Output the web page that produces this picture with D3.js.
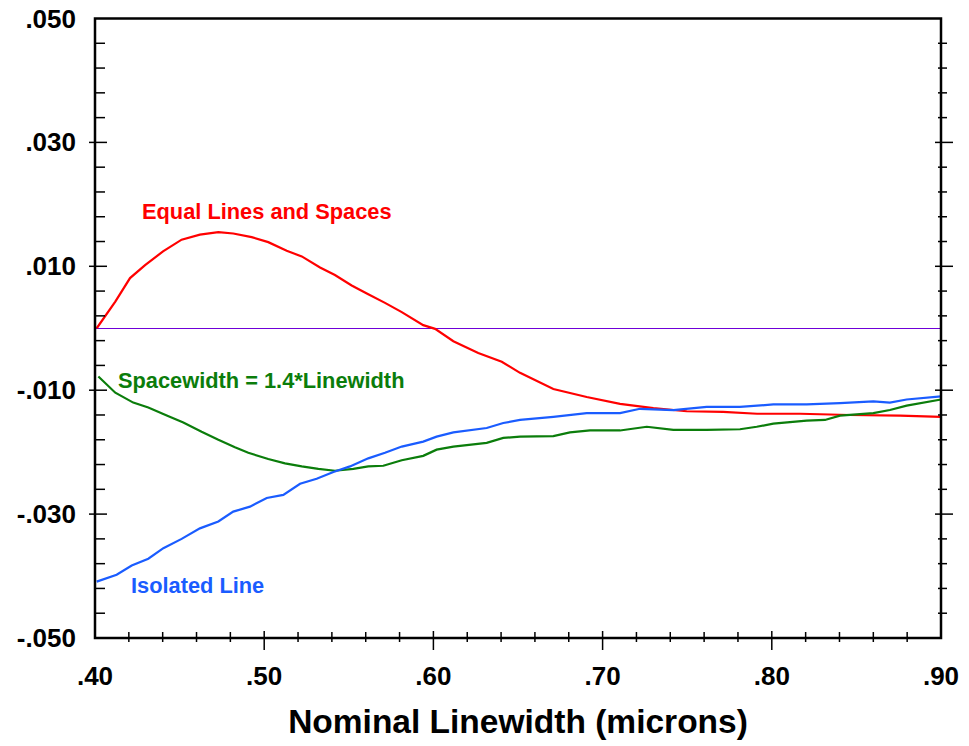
<!DOCTYPE html>
<html>
<head>
<meta charset="utf-8">
<script src="https://cdn.jsdelivr.net/npm/d3@7"></script>
<style>
  body { margin: 0; background: #fff; }
  text { font-family: Arial, "Liberation Sans", sans-serif; font-weight: bold; }
</style>
</head>
<body>
<div id="chart"></div>
<script>
// tick labels
var xTicks = [0.40, 0.50, 0.60, 0.70, 0.80, 0.90];
var xTickLabels = [".40", ".50", ".60", ".70", ".80", ".90"];
var yTicks = [0.050, 0.030, 0.010, -0.010, -0.030, -0.050];
var yTickLabels = [".050", ".030", ".010", "-.010", "-.030", "-.050"];

// Equal Lines and Spaces
var equalX = [0.401, 0.412, 0.4207, 0.4296, 0.4402, 0.4512, 0.462, 0.4729, 0.4817, 0.4926,
  0.5024, 0.5133, 0.5222, 0.533, 0.5418, 0.5517, 0.5615, 0.5714, 0.5813, 0.594,
  0.601, 0.6118, 0.6265, 0.6404, 0.6512, 0.6709, 0.6906, 0.7103, 0.73, 0.7497,
  0.7712, 0.7913, 0.8167, 0.846, 0.8758, 0.90];
var equalY = [0.0, 0.0043, 0.0081, 0.0102, 0.0124, 0.0143, 0.0151, 0.0155, 0.0153, 0.0147,
  0.0139, 0.0125, 0.0116, 0.0098, 0.0086, 0.0069, 0.0055, 0.0041, 0.0026, 0.0005,
  -0.0001, -0.0021, -0.0040, -0.0054, -0.0072, -0.0098, -0.0111, -0.0122, -0.0129, -0.0134,
  -0.0135, -0.0138, -0.0138, -0.0140, -0.0141, -0.0143];

// Spacewidth = 1.4*Linewidth
var spaceX = [0.402, 0.412, 0.4226, 0.4315, 0.4424, 0.4522, 0.463, 0.4729, 0.4827, 0.4906,
  0.5024, 0.5123, 0.5222, 0.532, 0.5418, 0.5527, 0.5615, 0.5704, 0.5813, 0.594,
  0.6019, 0.6118, 0.6315, 0.6413, 0.6512, 0.6709, 0.6807, 0.6926, 0.7103, 0.7261,
  0.7418, 0.7615, 0.7812, 0.7911, 0.8009, 0.8206, 0.8314, 0.8403, 0.86, 0.8698,
  0.8797, 0.90];
var spaceY = [-0.0078, -0.0104, -0.0120, -0.0128, -0.0141, -0.0152, -0.0167, -0.0180, -0.0192, -0.0201,
  -0.0211, -0.0218, -0.0223, -0.0227, -0.0230, -0.0227, -0.0223, -0.0222, -0.0213, -0.0206,
  -0.0196, -0.0191, -0.0185, -0.0177, -0.0175, -0.0174, -0.0168, -0.0165, -0.0165, -0.0159,
  -0.0164, -0.0164, -0.0163, -0.0159, -0.0154, -0.0149, -0.0148, -0.0141, -0.0137, -0.0132,
  -0.0125, -0.0115];

// Isolated Line
var isoX = [0.401, 0.4128, 0.4217, 0.4315, 0.4404, 0.4512, 0.462, 0.4729, 0.4817, 0.4916,
  0.5015, 0.5113, 0.5212, 0.531, 0.5409, 0.5507, 0.5615, 0.5714, 0.5813, 0.594,
  0.6019, 0.6118, 0.6315, 0.6413, 0.6512, 0.6709, 0.6906, 0.7103, 0.7221, 0.7418,
  0.7615, 0.7812, 0.8009, 0.8206, 0.8403, 0.86, 0.8698, 0.8797, 0.90];
var isoY = [-0.0409, -0.0398, -0.0383, -0.0372, -0.0355, -0.0340, -0.0323, -0.0312, -0.0296, -0.0288,
  -0.0274, -0.0269, -0.0251, -0.0243, -0.0232, -0.0223, -0.0210, -0.0201, -0.0191, -0.0183,
  -0.0175, -0.0168, -0.0161, -0.0153, -0.0148, -0.0143, -0.0137, -0.0137, -0.0130, -0.0132,
  -0.0127, -0.0127, -0.0123, -0.0123, -0.0121, -0.0118, -0.0120, -0.0115, -0.0110];

var W = 969, H = 746;
var pLeft = 95, pRight = 941, pTop = 18.5, pBottom = 638;

var svg = d3.select("#chart").append("svg")
    .attr("width", W)
    .attr("height", H);

var x = d3.scaleLinear().domain([0.4, 0.9]).range([pLeft, pRight]);
var y = d3.scaleLinear().domain([-0.05, 0.05]).range([pBottom, pTop]);

// minor ticks every .02 on x, every .004 on y (skipping the labelled ones and zero)
var xMinor = d3.range(0.42, 0.89, 0.02).filter(function(d) { return Math.abs(Math.round(d * 10) - d * 10) > 0.01; });
var yMinor = d3.range(-0.046, 0.049, 0.004).filter(function(d) {
  var k = Math.round(d * 1000);
  return Math.abs(k) > 1 && Math.abs(k - 10) % 20 !== 0;
});

// zero line
var zy = Math.round(y(0)) + 0.5;
svg.append("line")
    .attr("x1", pLeft).attr("x2", pRight)
    .attr("y1", zy).attr("y2", zy)
    .attr("stroke", "#6f00d8").attr("stroke-width", 1);

// series
var line = d3.line()
    .x(function(d) { return x(d[0]); })
    .y(function(d) { return y(d[1]); });

var series = [
  {xs: equalX, ys: equalY, color: "#ff0000"},
  {xs: spaceX, ys: spaceY, color: "#0b7d0b"},
  {xs: isoX, ys: isoY, color: "#1a5cff"}
];
series.forEach(function(s) {
  svg.append("path")
      .datum(d3.zip(s.xs, s.ys))
      .attr("d", line)
      .attr("fill", "none")
      .attr("stroke", s.color)
      .attr("stroke-width", 2.2);
});

// ticks
var g = svg.append("g").attr("stroke", "#000").attr("stroke-width", 1.5);
g.selectAll(".lminor").data(yMinor).enter().append("line")
    .attr("x1", pLeft).attr("x2", pLeft + 10)
    .attr("y1", function(d) { return y(d); }).attr("y2", function(d) { return y(d); });
g.selectAll(".lmajor").data(yTicks.slice(1, -1)).enter().append("line")
    .attr("x1", pLeft - 6).attr("x2", pLeft + 12)
    .attr("y1", function(d) { return y(d); }).attr("y2", function(d) { return y(d); });
g.selectAll(".rminor").data(yMinor).enter().append("line")
    .attr("x1", pRight - 3).attr("x2", pRight + 6)
    .attr("y1", function(d) { return y(d); }).attr("y2", function(d) { return y(d); });
g.selectAll(".rmajor").data(yTicks.slice(1, -1)).enter().append("line")
    .attr("x1", pRight - 6).attr("x2", pRight + 12)
    .attr("y1", function(d) { return y(d); }).attr("y2", function(d) { return y(d); });
g.selectAll(".bminor").data(xMinor).enter().append("line")
    .attr("y1", pBottom - 6).attr("y2", pBottom + 4)
    .attr("x1", function(d) { return x(d); }).attr("x2", function(d) { return x(d); });
g.selectAll(".bmajor").data(xTicks.slice(1, -1)).enter().append("line")
    .attr("y1", pBottom - 7).attr("y2", pBottom + 12)
    .attr("x1", function(d) { return x(d); }).attr("x2", function(d) { return x(d); });

// frame
svg.append("rect")
    .attr("x", pLeft).attr("y", pTop)
    .attr("width", pRight - pLeft).attr("height", pBottom - pTop)
    .attr("fill", "none").attr("stroke", "#000").attr("stroke-width", 2.5);

// tick labels
svg.selectAll(".ylab").data(yTicks).enter().append("text")
    .attr("x", 76)
    .attr("y", function(d) { return y(d) + 9; })
    .attr("text-anchor", "end")
    .attr("font-size", 26)
    .text(function(d, i) { return yTickLabels[i]; });

svg.selectAll(".xlab").data(xTicks).enter().append("text")
    .attr("x", function(d) { return x(d); })
    .attr("y", 685)
    .attr("text-anchor", "middle")
    .attr("font-size", 26)
    .text(function(d, i) { return xTickLabels[i]; });

svg.append("text")
    .attr("x", (pLeft + pRight) / 2)
    .attr("y", 733)
    .attr("text-anchor", "middle")
    .attr("font-size", 33.5)
    .text("Nominal Linewidth (microns)");

// series labels
svg.append("text").attr("x", 142).attr("y", 219).attr("font-size", 21.8)
    .attr("fill", "#ff0000").text("Equal Lines and Spaces");
svg.append("text").attr("x", 118).attr("y", 388).attr("font-size", 21.8)
    .attr("fill", "#0b7d0b").text("Spacewidth = 1.4*Linewidth");
svg.append("text").attr("x", 131).attr("y", 593).attr("font-size", 21.8)
    .attr("fill", "#1a5cff").text("Isolated Line");
</script>
</body>
</html>
